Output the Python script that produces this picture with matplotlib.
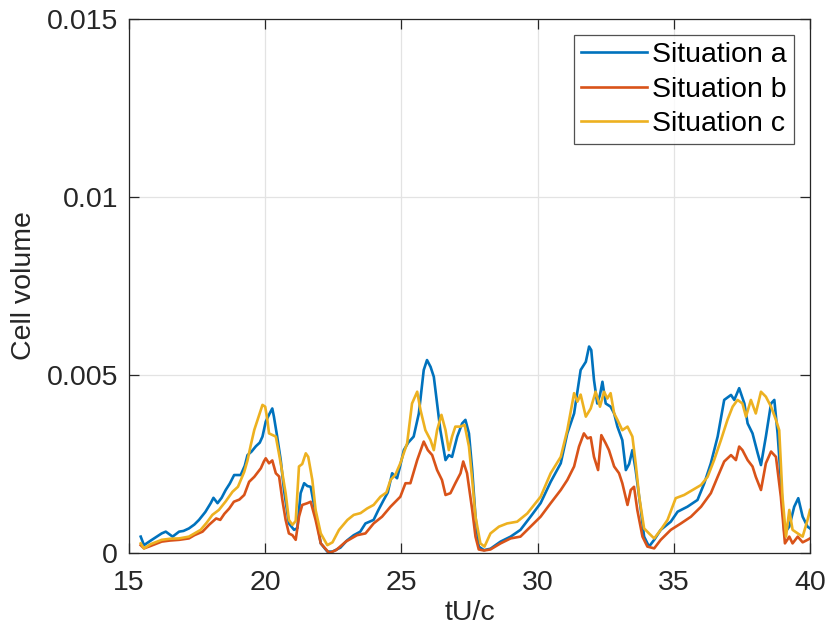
import numpy as np
import matplotlib
matplotlib.use("Agg")
import matplotlib.pyplot as plt

# cell volume traces (values in units of 1e-3), sampled at uneven times
t_a = [15.43, 15.55, 15.8, 16.0, 16.2, 16.35, 16.6, 16.84, 17.0, 17.2, 17.4, 17.57, 17.8, 18.0, 18.1,
       18.25, 18.4, 18.55, 18.7, 18.86, 19.1, 19.25, 19.35, 19.5, 19.66, 19.8, 19.9, 20.02, 20.15, 20.26,
       20.32, 20.44, 20.57, 20.69, 20.87, 21.06, 21.18, 21.3, 21.43, 21.55, 21.67, 21.85, 22.04, 22.28,
       22.47, 22.76, 23.0, 23.25, 23.49, 23.68, 23.98, 24.15, 24.35, 24.5, 24.66, 24.84, 24.95, 25.09,
       25.25, 25.45, 25.64, 25.82, 25.94, 26.07, 26.19, 26.31, 26.43, 26.62, 26.74, 26.86, 27.05, 27.23,
       27.35, 27.48, 27.6, 27.72, 27.84, 28.03, 28.27, 28.64, 29.01, 29.37, 29.74, 30.11, 30.48, 30.85,
       31.09, 31.34, 31.58, 31.77, 31.89, 31.97, 32.07, 32.19, 32.29, 32.38, 32.5, 32.68, 32.81, 32.93,
       33.11, 33.24, 33.36, 33.48, 33.6, 33.79, 33.91, 34.09, 34.28, 34.52, 34.89, 35.14, 35.5, 35.87,
       36.12, 36.36, 36.61, 36.85, 37.1, 37.22, 37.4, 37.59, 37.71, 37.89, 38.08, 38.2, 38.38, 38.57,
       38.69, 38.81, 38.93, 39.06, 39.24, 39.42, 39.57, 39.73, 39.91, 40.0]
v_a = [0.46, 0.22, 0.35, 0.45, 0.55, 0.6, 0.46, 0.6, 0.62, 0.69, 0.8, 0.93, 1.15, 1.4, 1.55,
       1.4, 1.55, 1.77, 1.95, 2.19, 2.19, 2.45, 2.75, 2.85, 3.0, 3.1, 3.27, 3.69, 3.9, 4.06,
       3.83, 3.27, 2.61, 1.77, 0.83, 0.65, 0.7, 1.68, 1.96, 1.88, 1.86, 1.11, 0.27, 0.04,
       0.04, 0.15, 0.35, 0.5, 0.6, 0.83, 0.93, 1.2, 1.49, 1.7, 2.24, 2.1, 2.43, 2.89,
       3.1, 3.27, 3.92, 5.14, 5.42, 5.23, 4.95, 4.2, 3.45, 2.61, 2.75, 2.7, 3.27, 3.64,
       3.74, 3.36, 2.33, 1.02, 0.18, 0.08, 0.12, 0.32, 0.46, 0.65, 1.02, 1.4, 2.0, 2.52,
       3.36, 3.92, 5.14, 5.37, 5.8, 5.7, 4.86, 4.2, 4.44, 4.81, 4.2, 4.11, 3.92, 3.55,
       3.17, 2.33, 2.5, 2.89, 2.33, 1.21, 0.46, 0.18, 0.37, 0.65, 0.88, 1.16, 1.3, 1.49,
       1.96, 2.52, 3.27, 4.3, 4.44, 4.3, 4.63, 4.2, 3.64, 3.36, 2.8, 2.47, 3.27, 4.2,
       4.3, 3.36, 2.05, 0.55, 0.74, 1.3, 1.54, 1.02, 0.74, 0.69]

t_b = [15.43, 15.55, 15.8, 16.2, 16.5, 16.84, 17.2, 17.4, 17.7, 17.95, 18.2, 18.35, 18.5, 18.68, 18.85,
       19.05, 19.23, 19.41, 19.6, 19.84, 19.95, 20.02, 20.14, 20.26, 20.39, 20.51, 20.63, 20.75, 20.87,
       21.0, 21.12, 21.24, 21.36, 21.55, 21.67, 21.85, 22.04, 22.35, 22.6, 22.96, 23.37, 23.68, 23.98,
       24.29, 24.6, 24.96, 25.15, 25.33, 25.58, 25.82, 25.97, 26.13, 26.31, 26.49, 26.62, 26.8, 26.98,
       27.17, 27.27, 27.41, 27.6, 27.72, 27.84, 28.03, 28.27, 28.64, 29.01, 29.37, 29.74, 30.11, 30.48,
       30.85, 31.09, 31.34, 31.52, 31.7, 31.83, 31.95, 32.07, 32.22, 32.34, 32.5, 32.62, 32.81, 32.99,
       33.11, 33.3, 33.42, 33.54, 33.66, 33.85, 34.03, 34.28, 34.52, 34.89, 35.26, 35.63, 36.0, 36.36,
       36.61, 36.85, 37.1, 37.28, 37.4, 37.52, 37.71, 37.89, 38.01, 38.2, 38.38, 38.57, 38.75, 38.93,
       39.08, 39.24, 39.36, 39.55, 39.73, 39.91, 40.0]
v_b = [0.22, 0.13, 0.2, 0.32, 0.35, 0.37, 0.41, 0.5, 0.6, 0.8, 0.97, 0.93, 1.1, 1.25, 1.44,
       1.5, 1.63, 2.0, 2.14, 2.38, 2.57, 2.66, 2.52, 2.6, 2.24, 2.15, 1.49, 0.93, 0.55,
       0.5, 0.37, 1.02, 1.35, 1.4, 1.44, 0.93, 0.27, 0.0, 0.08, 0.32, 0.5, 0.55, 0.83,
       1.02, 1.3, 1.58, 1.96, 1.96, 2.61, 3.13, 2.89, 2.75, 2.33, 2.05, 1.63, 1.68, 1.96,
       2.24, 2.57, 2.24, 1.21, 0.46, 0.1, 0.07, 0.1, 0.27, 0.41, 0.46, 0.74, 1.02, 1.4,
       1.77, 2.05, 2.43, 2.99, 3.36, 3.22, 3.25, 2.7, 2.33, 3.31, 3.08, 2.89, 2.43, 2.24,
       1.96, 1.35, 1.77, 1.86, 1.21, 0.46, 0.18, 0.13, 0.37, 0.65, 0.83, 1.02, 1.3, 1.68,
       2.14, 2.57, 2.75, 2.61, 2.99, 2.89, 2.61, 2.43, 2.14, 1.77, 2.52, 2.85, 2.7, 1.58,
       0.27, 0.46, 0.27, 0.46, 0.3, 0.37, 0.41]

t_c = [15.43, 15.55, 15.8, 16.2, 16.5, 16.84, 17.2, 17.4, 17.63, 17.85, 18.06, 18.3, 18.55, 18.8, 19.0,
       19.23, 19.35, 19.47, 19.6, 19.78, 19.9, 20.0, 20.08, 20.14, 20.39, 20.57, 20.75, 20.87, 21.0,
       21.12, 21.24, 21.36, 21.49, 21.58, 21.73, 21.85, 22.04, 22.28, 22.47, 22.71, 23.02, 23.25, 23.5,
       23.74, 23.98, 24.23, 24.45, 24.6, 24.78, 24.96, 25.21, 25.39, 25.58, 25.7, 25.88, 26.07, 26.19,
       26.31, 26.47, 26.62, 26.74, 26.86, 26.98, 27.17, 27.32, 27.48, 27.6, 27.72, 27.9, 28.05, 28.27,
       28.58, 28.88, 29.25, 29.62, 30.11, 30.48, 30.85, 31.09, 31.34, 31.46, 31.58, 31.77, 31.95, 32.13,
       32.29, 32.44, 32.56, 32.68, 32.81, 32.93, 33.11, 33.3, 33.48, 33.6, 33.73, 33.91, 34.09, 34.28,
       34.52, 34.77, 35.07, 35.38, 35.69, 36.0, 36.24, 36.48, 36.73, 36.97, 37.16, 37.34, 37.52, 37.65,
       37.83, 38.01, 38.2, 38.38, 38.57, 38.75, 38.87, 38.99, 39.12, 39.24, 39.36, 39.55, 39.73, 39.91,
       40.0]
v_c = [0.27, 0.13, 0.25, 0.37, 0.4, 0.41, 0.46, 0.55, 0.65, 0.85, 1.07, 1.21, 1.45, 1.72, 1.86,
       2.28, 2.6, 3.03, 3.46, 3.88, 4.16, 4.11, 3.74, 3.36, 3.27, 2.52, 1.68, 0.93, 0.79,
       0.9, 2.43, 2.5, 2.8, 2.7, 2.05, 1.21, 0.55, 0.22, 0.3, 0.65, 0.93, 1.07, 1.12,
       1.25, 1.35, 1.58, 1.7, 2.05, 2.2, 2.52, 3.08, 4.2, 4.53, 4.02, 3.45, 3.17, 2.89,
       3.45, 3.88, 3.45, 2.89, 3.27, 3.55, 3.55, 3.6, 2.99, 2.05, 1.02, 0.27, 0.18, 0.55,
       0.74, 0.83, 0.88, 1.11, 1.58, 2.24, 2.7, 3.45, 4.49, 4.25, 4.45, 3.83, 4.06, 4.53,
       4.11, 4.53, 4.34, 4.49, 3.92, 3.74, 3.45, 3.55, 3.27, 2.52, 1.58, 0.69, 0.55, 0.41,
       0.65, 0.93, 1.54, 1.63, 1.77, 1.91, 2.14, 2.61, 3.17, 3.74, 4.11, 4.3, 4.2, 3.83,
       4.3, 3.92, 4.53, 4.39, 4.11, 3.74, 3.45, 1.58, 0.46, 1.21, 0.65, 0.55, 0.46, 0.93,
       1.21]

labels = ["Situation a", "Situation b", "Situation c"]
colors = ["#0072BD", "#D95319", "#EDB120"]

plt.rcParams["font.family"] = ["Liberation Sans", "DejaVu Sans"]
dark = "#262626"
fs = 20.5

fig = plt.figure(figsize=(8.29, 6.36), dpi=100)
ax = fig.add_axes([129/829, 83/636, 681/829, 534/636])

for t, v, lab, c in zip([t_a, t_b, t_c], [v_a, v_b, v_c], labels, colors):
    ax.plot(t, np.array(v) * 1e-3, color=c, lw=1.9, label=lab)

ax.set_xlim(15, 40)
ax.set_ylim(0, 0.015)
ax.set_xticks([15, 20, 25, 30, 35, 40])
ax.set_yticks([0, 0.005, 0.01, 0.015])
ax.set_yticklabels(["0", "0.005", "0.01", "0.015"])
ax.grid(True, color="#e3e3e3", lw=0.9)
ax.set_axisbelow(True)
for s in ax.spines.values():
    s.set_color(dark)
    s.set_linewidth(0.9)
ax.tick_params(direction="in", length=7, width=0.9, color=dark, labelcolor=dark,
               labelsize=fs, top=True, right=True)
ax.tick_params(axis="x", pad=12)
ax.tick_params(axis="y", pad=8)

ax.set_xlabel("tU/c", fontsize=fs, color=dark, labelpad=3)
ax.set_ylabel("Cell volume", fontsize=fs, color=dark, labelpad=7)

leg = ax.legend(loc="upper right", bbox_to_anchor=(0.9765, 0.970), borderaxespad=0,
                fontsize=fs, frameon=True, fancybox=False, handlelength=2.3,
                handletextpad=0.2, labelspacing=0.3, borderpad=0.25)
leg.get_frame().set_edgecolor(dark)
leg.get_frame().set_linewidth(0.9)
for txt in leg.get_texts():
    txt.set_color("black")

fig.savefig("out.png", dpi=100)
